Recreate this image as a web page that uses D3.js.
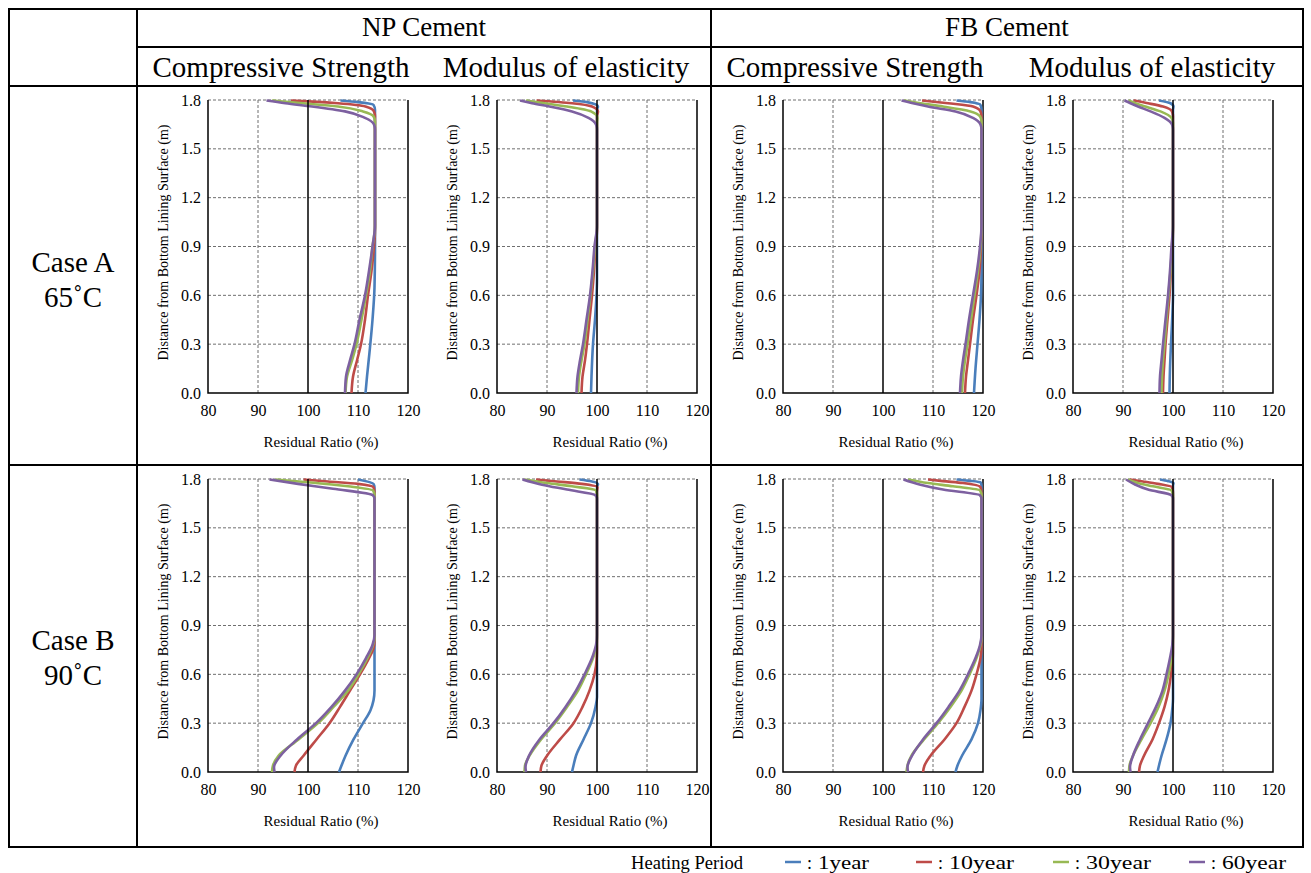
<!DOCTYPE html>
<html>
<head>
<meta charset="utf-8">
<script src="https://cdn.jsdelivr.net/npm/d3@7"></script>
<style>
body { margin: 0; background: #fff; }
svg text { font-family: "Liberation Serif", "Times New Roman", serif; fill: #000; }
</style>
</head>
<body>
<script>
const m = {
    width: 1311,
    height: 873
}

// headers and labels
const cements = ['NP Cement', 'FB Cement']
const properties = ['Compressive Strength', 'Modulus of elasticity']
const cases = [['Case A', '65˚C'], ['Case B', '90˚C']]
const periods = ['1year', '10year', '30year', '60year']
const colors = ['#4A7EBB', '#BE4B48', '#98B954', '#7D60A0']
const xTicks = [80, 90, 100, 110, 120]
const yTicks = [0, 0.3, 0.6, 0.9, 1.2, 1.5, 1.8]

// each panel: [1year, 10year, 30year, 60year], points are [residual ratio %, distance m]
const npStrengthA = [
    [[111.5,0],[111.8,0.1],[112.3,0.25],[112.9,0.45],[113.3,0.65],[113.4,0.9],[113.4,1.74],[113.1,1.77],[110,1.787],[106.5,1.797]],
    [[108.7,0],[109.0,0.1],[109.8,0.2],[110.6,0.3],[111.4,0.45],[112.0,0.6],[112.7,0.75],[113.2,0.9],[113.4,1.0],[113.4,1.70],[113.2,1.73],[111.5,1.76],[106,1.78],[101,1.79],[96.6,1.797]],
    [[107.5,0],[107.8,0.1],[108.8,0.2],[109.7,0.3],[110.7,0.45],[111.6,0.6],[112.4,0.75],[112.9,0.9],[113.4,1.02],[113.4,1.67],[113.1,1.7],[111,1.73],[106,1.76],[99,1.78],[92.8,1.797]],
    [[107.4,0],[107.6,0.1],[108.4,0.2],[109.3,0.3],[110.3,0.45],[111.4,0.6],[112.2,0.75],[112.9,0.9],[113.4,1.03],[113.4,1.62],[113.2,1.65],[111.4,1.69],[107.4,1.73],[100.8,1.76],[95.5,1.78],[91.7,1.797]]
]
const npModulusA = [
    [[98.8,0],[98.9,0.1],[99.2,0.3],[99.6,0.45],[99.9,0.6],[100,0.7],[100,1.74],[100.2,1.76],[98,1.787],[95.2,1.797]],
    [[96.9,0],[97.1,0.1],[97.6,0.2],[98.0,0.3],[98.5,0.45],[99.0,0.6],[99.4,0.75],[99.7,0.9],[100,1.0],[100,1.70],[100.2,1.73],[99,1.76],[95,1.78],[87.9,1.797]],
    [[96.2,0],[96.4,0.1],[96.9,0.2],[97.5,0.3],[98.1,0.45],[98.7,0.6],[99.2,0.75],[99.6,0.9],[100,1.02],[100,1.66],[100.1,1.69],[98.8,1.73],[94,1.76],[89.5,1.78],[85.8,1.797]],
    [[95.9,0],[96.1,0.1],[96.6,0.2],[97.2,0.3],[97.9,0.45],[98.6,0.6],[99.1,0.75],[99.5,0.9],[100,1.03],[100,1.62],[99.8,1.65],[98.3,1.69],[95,1.73],[90.5,1.76],[87,1.78],[84.6,1.797]]
]
const fbStrengthA = [
    [[118.2,0],[118.5,0.15],[118.9,0.3],[119.3,0.45],[119.6,0.6],[119.7,0.75],[119.7,1.74],[119.5,1.77],[117.5,1.787],[114.7,1.797]],
    [[116.4,0],[116.6,0.1],[117.0,0.2],[117.4,0.3],[118.0,0.45],[118.7,0.6],[119.3,0.75],[119.6,0.9],[119.7,1.0],[119.7,1.70],[119.5,1.73],[118,1.76],[113,1.78],[107.8,1.797]],
    [[115.8,0],[116.0,0.1],[116.4,0.2],[116.9,0.3],[117.6,0.45],[118.3,0.6],[119.0,0.75],[119.5,0.9],[119.7,1.02],[119.7,1.67],[119.4,1.7],[117.5,1.73],[112,1.76],[107.5,1.78],[104.2,1.797]],
    [[115.4,0],[115.6,0.1],[116.0,0.2],[116.5,0.3],[117.2,0.45],[118.0,0.6],[118.8,0.75],[119.4,0.9],[119.7,1.03],[119.7,1.62],[119.5,1.65],[118,1.69],[114.5,1.73],[109,1.76],[106,1.78],[103.7,1.797]]
]
const fbModulusA = [
    [[99.3,0],[99.4,0.15],[99.6,0.3],[99.9,0.5],[100,0.6],[100,1.74],[100.1,1.76],[99.5,1.78],[97.2,1.797]],
    [[98.0,0],[98.1,0.1],[98.3,0.2],[98.5,0.3],[98.9,0.45],[99.3,0.6],[99.6,0.75],[99.9,0.9],[100,1.0],[100,1.70],[99.8,1.73],[98,1.76],[95,1.78],[92.1,1.797]],
    [[97.7,0],[97.8,0.1],[98.0,0.2],[98.3,0.3],[98.7,0.45],[99.1,0.6],[99.5,0.75],[99.8,0.9],[100,1.02],[100,1.66],[99.7,1.69],[97.5,1.73],[94.5,1.76],[92.5,1.78],[91.1,1.797]],
    [[97.3,0],[97.4,0.1],[97.7,0.2],[98.0,0.3],[98.5,0.45],[99.0,0.6],[99.4,0.75],[99.7,0.9],[100,1.03],[100,1.62],[99.8,1.65],[98.3,1.69],[95.5,1.73],[93,1.76],[91.5,1.78],[90.3,1.797]]
]
const npStrengthB = [
    [[106.2,0],[106.7,0.04],[107.5,0.1],[109.1,0.2],[111.0,0.3],[112.5,0.38],[113.1,0.44],[113.3,0.5],[113.3,1.75],[113.1,1.77],[110,1.797]],
    [[97.3,0],[97.6,0.04],[99.1,0.1],[101.7,0.2],[104.3,0.3],[106.4,0.4],[108.4,0.5],[110.4,0.6],[112.2,0.7],[113.1,0.76],[113.3,0.8],[113.3,1.72],[113.1,1.75],[110,1.77],[104,1.785],[99.1,1.797]],
    [[92.8,0],[93.0,0.04],[94.1,0.1],[98.1,0.2],[102.0,0.3],[105.1,0.4],[108.0,0.5],[110.1,0.6],[111.9,0.7],[113.0,0.78],[113.3,0.82],[113.3,1.7],[113.0,1.73],[108,1.755],[100,1.78],[93.5,1.797]],
    [[93.3,0],[93.2,0.03],[94.5,0.1],[97.8,0.2],[101.6,0.3],[104.7,0.4],[107.4,0.5],[109.7,0.6],[111.6,0.7],[112.9,0.78],[113.3,0.84],[113.3,1.68],[113.0,1.7],[105,1.74],[98,1.77],[92.3,1.797]]
]
const npModulusB = [
    [[95.0,0],[95.3,0.04],[95.8,0.1],[97.3,0.2],[98.8,0.3],[99.7,0.4],[100,0.46],[100,1.75],[100.2,1.77],[99,1.785],[96.5,1.797]],
    [[88.7,0],[88.9,0.04],[90.0,0.1],[92.6,0.2],[95.3,0.3],[97.1,0.4],[98.5,0.5],[99.5,0.6],[99.95,0.7],[100,0.76],[100,1.72],[100.1,1.75],[97,1.77],[92,1.785],[87.8,1.797]],
    [[85.5,0],[85.6,0.04],[86.5,0.1],[88.8,0.2],[91.6,0.3],[94.0,0.4],[96.2,0.5],[97.8,0.6],[99.2,0.7],[99.9,0.78],[100,0.82],[100,1.7],[99.8,1.73],[95,1.755],[90,1.775],[85.5,1.797]],
    [[85.8,0],[85.7,0.03],[86.4,0.1],[88.5,0.2],[91.3,0.3],[93.7,0.4],[95.8,0.5],[97.5,0.6],[99.0,0.7],[99.8,0.78],[100,0.84],[100,1.68],[99.7,1.7],[94,1.735],[89,1.765],[85.1,1.797]]
]
const fbStrengthB = [
    [[114.5,0],[114.9,0.04],[115.8,0.1],[117.7,0.2],[119.0,0.3],[119.5,0.38],[119.7,0.45],[119.7,1.76],[119.5,1.78],[117,1.79],[114.7,1.797]],
    [[108.0,0],[108.3,0.04],[109.5,0.1],[112.3,0.2],[114.7,0.3],[116.3,0.4],[117.7,0.5],[118.7,0.6],[119.5,0.7],[119.7,0.76],[119.7,1.72],[119.5,1.75],[116,1.775],[112,1.787],[109,1.797]],
    [[104.7,0],[104.9,0.04],[105.7,0.1],[108.2,0.2],[111.0,0.3],[113.5,0.4],[115.7,0.5],[117.3,0.6],[118.7,0.7],[119.5,0.78],[119.7,0.82],[119.7,1.7],[119.4,1.73],[114,1.755],[109,1.775],[105,1.797]],
    [[105.0,0],[104.9,0.03],[105.8,0.1],[108.0,0.2],[110.7,0.3],[113.1,0.4],[115.3,0.5],[117.0,0.6],[118.5,0.7],[119.4,0.78],[119.7,0.84],[119.7,1.68],[119.4,1.7],[112,1.735],[107.5,1.765],[104.1,1.797]]
]
const fbModulusB = [
    [[96.9,0],[97.2,0.04],[97.7,0.1],[98.7,0.2],[99.5,0.3],[99.9,0.4],[100,0.45],[100,1.76],[100.1,1.775],[99,1.787],[97.4,1.797]],
    [[93.2,0],[93.4,0.04],[94.2,0.1],[95.9,0.2],[97.2,0.3],[98.3,0.4],[99.1,0.5],[99.6,0.6],[99.95,0.7],[100,0.76],[100,1.72],[99.8,1.75],[97,1.77],[94,1.785],[91.4,1.797]],
    [[91.2,0],[91.3,0.04],[92.0,0.1],[93.7,0.2],[95.5,0.3],[97.1,0.4],[98.3,0.5],[99.1,0.6],[99.7,0.7],[99.95,0.78],[100,0.82],[100,1.7],[99.7,1.73],[96,1.755],[93,1.775],[91.0,1.797]],
    [[91.5,0],[91.4,0.03],[92.0,0.1],[93.4,0.2],[95.0,0.3],[96.6,0.4],[97.9,0.5],[98.7,0.6],[99.4,0.7],[99.85,0.78],[100,0.84],[100,1.68],[99.7,1.7],[95,1.735],[92.5,1.765],[90.6,1.797]]
]

const serif = '"Liberation Serif", "Times New Roman", serif'

const svg = d3.select('body').append('svg')
    .attr('width', m.width)
    .attr('height', m.height)
    .attr('font-family', serif)

// table frame
const T = { left: 9, right: 1303, top: 9, bottom: 847, col0: 137, mid: 711, head: 47, sub: 86, rowMid: 465 }
const frame = svg.append('g').attr('stroke', '#000').attr('stroke-width', 2).attr('fill', 'none')
frame.append('rect')
    .attr('x', T.left).attr('y', T.top)
    .attr('width', T.right - T.left).attr('height', T.bottom - T.top)
const tableLines = [
    [T.col0, T.top, T.col0, T.bottom],
    [T.mid, T.top, T.mid, T.bottom],
    [T.col0, T.head, T.right, T.head],
    [T.left, T.sub, T.right, T.sub],
    [T.left, T.rowMid, T.right, T.rowMid]
]
frame.selectAll('line')
    .data(tableLines)
    .enter()
    .append('line')
        .attr('x1', d => d[0]).attr('y1', d => d[1])
        .attr('x2', d => d[2]).attr('y2', d => d[3])

// headers
const cementCenters = [(T.col0 + T.mid) / 2, (T.mid + T.right) / 2]
svg.selectAll('.cement')
    .data(cements)
    .enter()
    .append('text')
        .attr('x', (d, i) => cementCenters[i])
        .attr('y', 36)
        .attr('text-anchor', 'middle')
        .style('font-size', '27px')
        .text(d => d)

const propCenters = [281, 566, 855, 1152]
svg.selectAll('.prop')
    .data([0, 1, 2, 3])
    .enter()
    .append('text')
        .attr('x', d => propCenters[d])
        .attr('y', 77)
        .attr('text-anchor', 'middle')
        .style('font-size', '29px')
        .text(d => properties[d % 2])

const caseY = [272, 650]
cases.forEach(function(c, i) {
    c.forEach(function(t, j) {
        svg.append('text')
            .attr('x', 73)
            .attr('y', caseY[i] + j * 35)
            .attr('text-anchor', 'middle')
            .style('font-size', '29px')
            .text(t)
    })
})

// panels
const panelX = [208, 497, 783, 1073]
const panelY = [100, 479]
const pw = 200, ph = 293

const panels = [
    { row: 0, col: 0, data: npStrengthA },
    { row: 0, col: 1, data: npModulusA },
    { row: 0, col: 2, data: fbStrengthA },
    { row: 0, col: 3, data: fbModulusA },
    { row: 1, col: 0, data: npStrengthB },
    { row: 1, col: 1, data: npModulusB },
    { row: 1, col: 2, data: fbStrengthB },
    { row: 1, col: 3, data: fbModulusB }
]

const x = d3.scaleLinear().domain([80, 120]).range([0, pw])
const y = d3.scaleLinear().domain([0, 1.8]).range([ph, 0])

const line = d3.line()
    .x(d => x(d[0]))
    .y(d => y(d[1]))
    .curve(d3.curveMonotoneY)

panels.forEach(function(p) {
    const g = svg.append('g')
        .attr('transform', 'translate(' + panelX[p.col] + ',' + panelY[p.row] + ')')

    // dashed grid
    g.selectAll('.gx')
        .data(xTicks.filter(t => t === 90 || t === 110))
        .enter()
        .append('line')
            .attr('x1', d => x(d)).attr('x2', d => x(d))
            .attr('y1', 0).attr('y2', ph)
            .attr('stroke', '#6f6f6f').attr('stroke-width', 1)
            .attr('stroke-dasharray', '3,2')
    g.selectAll('.gy')
        .data(yTicks.filter(t => t > 0))
        .enter()
        .append('line')
            .attr('x1', 0).attr('x2', pw)
            .attr('y1', d => y(d)).attr('y2', d => y(d))
            .attr('stroke', '#6f6f6f').attr('stroke-width', 1)
            .attr('stroke-dasharray', '3,2')

    // frame: left, bottom, right solid
    g.append('path')
        .attr('d', 'M0,0V' + ph + 'H' + pw + 'V0')
        .attr('fill', 'none')
        .attr('stroke', '#000')
        .attr('stroke-width', 1.5)

    // curves
    g.selectAll('.curve')
        .data(p.data)
        .enter()
        .append('path')
            .attr('d', line)
            .attr('fill', 'none')
            .attr('stroke', (d, i) => colors[i])
            .attr('stroke-width', 2.6)
            .attr('stroke-linejoin', 'round')

    // 100% reference line
    g.append('line')
        .attr('x1', x(100)).attr('x2', x(100))
        .attr('y1', y(0)).attr('y2', y(1.8))
        .attr('stroke', '#000')
        .attr('stroke-width', 1.5)

    // axes
    const xa = g.append('g')
        .attr('transform', 'translate(0,' + ph + ')')
        .call(d3.axisBottom(x).tickValues(xTicks).tickSize(0).tickPadding(12).tickFormat(d3.format('d')))
    xa.attr('font-family', serif).attr('font-size', 16)
    xa.select('.domain').remove()

    const ya = g.append('g')
        .call(d3.axisLeft(y).tickValues(yTicks).tickSize(0).tickPadding(7).tickFormat(d3.format('.1f')))
    ya.attr('font-family', serif).attr('font-size', 16)
    ya.select('.domain').remove()

    g.append('text')
        .attr('x', pw / 2 + 13)
        .attr('y', ph + 54)
        .attr('text-anchor', 'middle')
        .style('font-size', '15px')
        .text('Residual Ratio (%)')

    g.append('text')
        .attr('transform', 'translate(-40,' + (ph / 2 - 4) + ') rotate(-90)')
        .attr('text-anchor', 'middle')
        .style('font-size', '14px')
        .text('Distance from Bottom Lining Surface (m)')
})

// legend
const legend = svg.append('g').style('font-size', '18px')
legend.append('text')
    .attr('x', 631)
    .attr('y', 869)
    .attr('textLength', 112)
    .attr('lengthAdjust', 'spacingAndGlyphs')
    .text('Heating Period')
const legendX = [785, 916, 1053, 1189]
const legendW = [51, 65, 65, 64]
periods.forEach(function(t, i) {
    legend.append('line')
        .attr('x1', legendX[i]).attr('x2', legendX[i] + 16)
        .attr('y1', 862).attr('y2', 862)
        .attr('stroke', colors[i])
        .attr('stroke-width', 2.5)
    legend.append('text')
        .attr('x', legendX[i] + 22)
        .attr('y', 869)
        .text(':')
    legend.append('text')
        .attr('x', legendX[i] + 33)
        .attr('y', 869)
        .attr('textLength', legendW[i])
        .attr('lengthAdjust', 'spacingAndGlyphs')
        .text(t)
})
</script>
</body>
</html>
